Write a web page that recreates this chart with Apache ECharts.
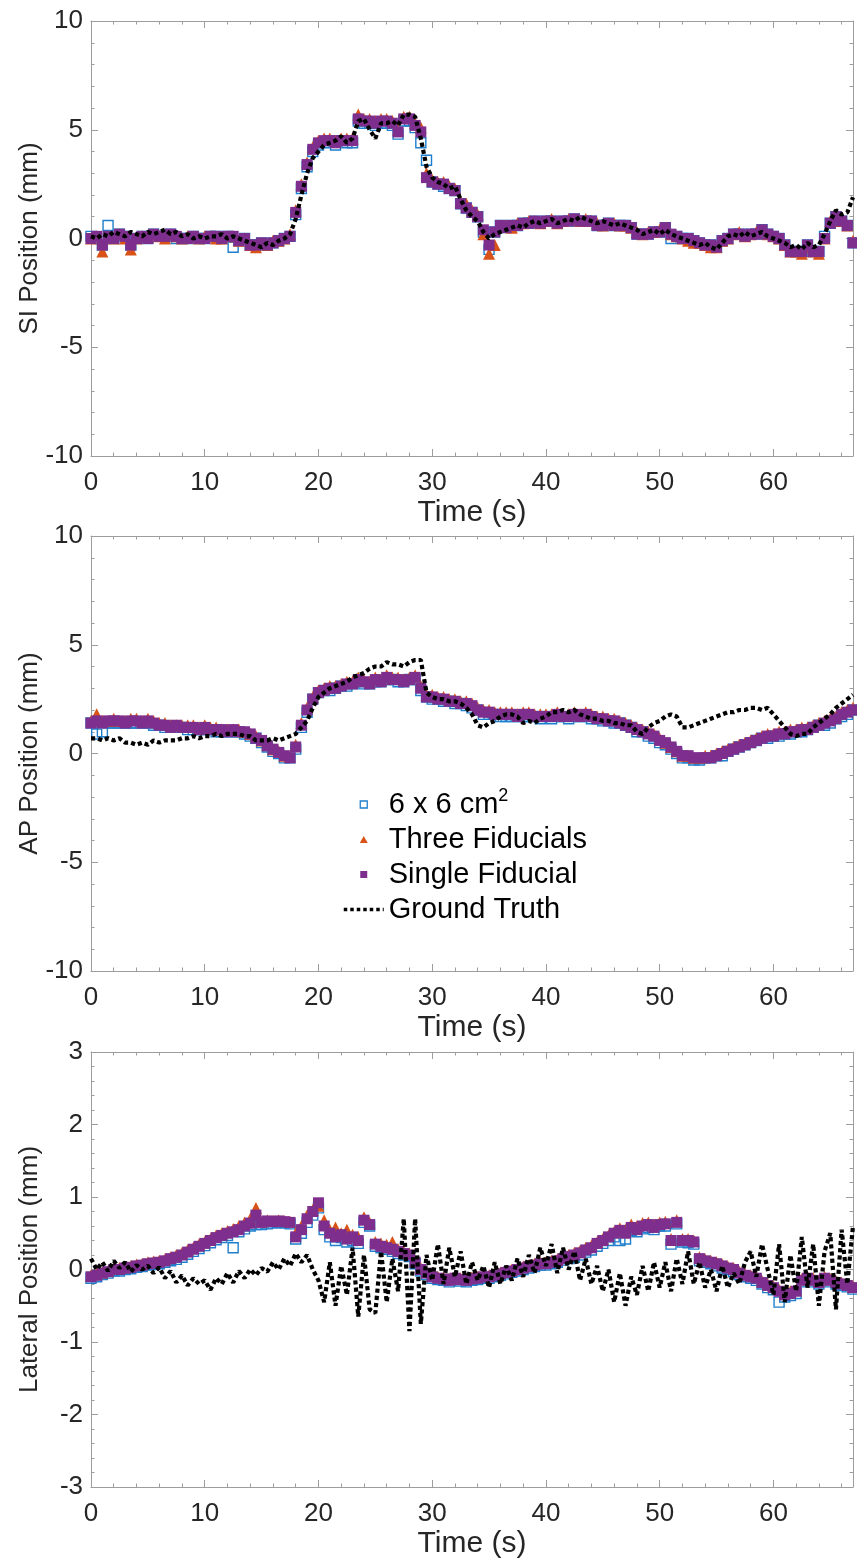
<!DOCTYPE html>
<html>
<head>
<meta charset="utf-8">
<script src="https://cdn.jsdelivr.net/npm/echarts@6.0.0/dist/echarts.min.js"></script>
<style>
  html, body { margin: 0; padding: 0; background: #ffffff; }
  #chart { width: 857px; height: 1563px; }
</style>
</head>
<body>
<div id="chart"></div>
<script>
// Tumour position traces: three marker-based estimates against the ground truth.
// Samples every 0.5 s from 0 to 67 s; each row below covers 5 s.
const SAMPLE_PERIOD = 0.5;   // s
const T_MAX = 67;            // s

const NAME_SQUARE = '6 x 6 cm²';
const NAME_THREE = 'Three Fiducials';
const NAME_SINGLE = 'Single Fiducial';
const NAME_TRUTH = 'Ground Truth';

// ---------- SI (mm) ----------
const SI_SQUARE = [
  0.1, 0.0, -0.3, 0.6, 0.0, 0.2, 0.1, -0.3, 0.0, 0.1,
  0.0, 0.2, 0.1, 0.1, 0.2, 0.0, 0.0, 0.0, 0.1, 0.0,
  0.0, 0.1, 0.1, 0.0, 0.1, -0.4, -0.1, 0.0, -0.3, -0.3,
  -0.2, -0.3, -0.2, -0.1, 0.0, 0.1, 1.1, 2.3, 3.3, 4.0,
  4.3, 4.4, 4.5, 4.3, 4.5, 4.4, 4.4, 5.4, 5.3, 5.3,
  5.2, 5.3, 5.3, 5.2, 4.8, 5.4, 5.4, 5.1, 4.4, 3.6,
  2.6, 2.5, 2.4, 2.3, 2.2, 1.6, 1.4, 1.2, 1.0, 0.3,
  -0.5, 0.3, 0.6, 0.5, 0.6, 0.6, 0.7, 0.7, 0.8, 0.7,
  0.8, 0.8, 0.7, 0.8, 0.8, 0.9, 0.8, 0.8, 0.8, 0.6,
  0.6, 0.7, 0.6, 0.6, 0.6, 0.5, 0.2, 0.2, 0.2, 0.3,
  0.3, 0.5, 0.0, 0.1, 0.0, 0.0, -0.1, -0.2, -0.3, -0.3,
  -0.4, -0.1, 0.0, 0.2, 0.2, 0.1, 0.2, 0.2, 0.4, 0.2,
  0.1, 0.0, -0.3, -0.6, -0.6, -0.6, -0.3, -0.6, -0.6, 0.1,
  0.7, 1.0, 0.8, 0.6, -0.2
];
const SI_THREE = [
  0.0, 0.1, -0.6, 0.1, 0.0, 0.2, 0.0, -0.5, 0.0, 0.1,
  0.1, 0.2, 0.1, 0.0, 0.2, 0.1, 0.0, 0.1, 0.1, 0.0,
  0.1, 0.1, 0.0, 0.0, 0.1, 0.1, -0.1, 0.0, -0.3, -0.4,
  -0.2, -0.3, -0.1, -0.1, 0.0, 0.2, 1.3, 2.5, 3.5, 4.2,
  4.5, 4.6, 4.6, 4.5, 4.6, 4.6, 4.6, 5.7, 5.5, 5.5,
  5.4, 5.5, 5.5, 5.4, 5.0, 5.6, 5.6, 5.3, 5.1, 3.0,
  2.7, 2.6, 2.6, 2.4, 2.3, 1.7, 1.6, 1.3, 1.1, 0.2,
  -0.7, -0.3, 0.6, 0.6, 0.5, 0.7, 0.7, 0.8, 0.8, 0.7,
  0.8, 0.9, 0.7, 0.8, 0.9, 0.9, 0.8, 0.9, 0.8, 0.7,
  0.6, 0.7, 0.7, 0.6, 0.6, 0.5, 0.3, 0.2, 0.3, 0.3,
  0.4, 0.5, 0.2, 0.1, 0.0, -0.1, -0.2, -0.2, -0.3, -0.4,
  -0.4, -0.1, 0.0, 0.2, 0.3, 0.1, 0.2, 0.3, 0.4, 0.2,
  0.1, 0.0, -0.3, -0.6, -0.6, -0.7, -0.4, -0.6, -0.7, 0.0,
  0.8, 1.1, 0.8, 0.6, -0.1
];
const SI_SINGLE = [
  0.0, 0.1, -0.3, 0.1, 0.0, 0.2, 0.1, -0.3, 0.0, 0.1,
  0.0, 0.2, 0.1, 0.1, 0.2, 0.1, 0.0, 0.0, 0.1, 0.0,
  0.0, 0.1, 0.1, 0.0, 0.1, 0.1, -0.1, 0.0, -0.3, -0.3,
  -0.2, -0.3, -0.2, -0.1, 0.0, 0.1, 1.2, 2.4, 3.4, 4.1,
  4.4, 4.5, 4.5, 4.4, 4.5, 4.5, 4.5, 5.5, 5.4, 5.4,
  5.3, 5.4, 5.4, 5.3, 4.9, 5.5, 5.5, 5.2, 4.9, 2.8,
  2.6, 2.5, 2.5, 2.3, 2.2, 1.6, 1.4, 1.2, 1.0, 0.4,
  -0.3, 0.3, 0.6, 0.5, 0.6, 0.6, 0.7, 0.7, 0.8, 0.7,
  0.8, 0.8, 0.7, 0.8, 0.8, 0.9, 0.8, 0.8, 0.8, 0.6,
  0.6, 0.7, 0.6, 0.6, 0.6, 0.5, 0.2, 0.2, 0.2, 0.3,
  0.3, 0.5, 0.2, 0.1, 0.0, 0.0, -0.1, -0.2, -0.3, -0.3,
  -0.4, -0.1, 0.0, 0.2, 0.2, 0.1, 0.2, 0.2, 0.4, 0.2,
  0.1, 0.0, -0.3, -0.6, -0.6, -0.6, -0.3, -0.6, -0.6, 0.0,
  0.7, 1.0, 0.8, 0.6, -0.2
];
const SI_TRUTH = [
  0.1, 0.0, 0.2, 0.1, 0.3, 0.2, 0.1, 0.3, 0.2, 0.1,
  0.3, 0.2, 0.3, 0.4, 0.2, 0.3, 0.1, 0.2, 0.0, 0.1,
  0.0, 0.1, 0.1, 0.2, 0.0, 0.1, 0.0, -0.1, -0.2, -0.3,
  -0.4, -0.2, -0.3, -0.1, 0.0, 0.2, 0.9, 2.0, 3.0, 3.7,
  4.0, 4.3, 4.4, 4.5, 4.7, 4.4, 4.6, 5.4, 5.5, 5.0,
  4.6, 5.3, 5.3, 5.4, 5.2, 5.7, 5.7, 5.6, 4.6, 3.3,
  2.8, 2.6, 2.5, 2.3, 2.4, 1.8, 1.3, 1.0, 0.8, 0.3,
  0.0, 0.2, 0.3, 0.4, 0.5, 0.6, 0.5, 0.7, 0.8, 0.7,
  0.8, 0.9, 0.7, 0.8, 0.9, 0.8, 1.0, 0.9, 0.8, 0.7,
  0.8, 0.7, 0.6, 0.7, 0.6, 0.5, 0.4, 0.2, 0.3, 0.4,
  0.2, 0.4, 0.2, 0.1, 0.0, -0.1, -0.2, -0.3, -0.2, -0.4,
  -0.5, -0.2, 0.1, 0.2, 0.1, 0.3, 0.1, 0.2, 0.3, 0.1,
  0.0, -0.1, -0.2, -0.4, -0.3, -0.5, -0.2, -0.4, -0.3, 0.2,
  0.8, 1.3, 1.1, 1.2, 1.9
];

// ---------- AP (mm) ----------
const AP_SQUARE = [
  1.4, 0.9, 1.0, 1.4, 1.4, 1.4, 1.4, 1.4, 1.4, 1.4,
  1.4, 1.3, 1.3, 1.2, 1.2, 1.2, 1.2, 1.1, 1.1, 1.1,
  1.1, 1.1, 1.0, 1.0, 1.0, 1.0, 1.0, 0.9, 0.8, 0.7,
  0.5, 0.3, 0.1, 0.0, -0.2, -0.2, 0.2, 1.2, 1.9, 2.5,
  2.8, 2.9, 2.9, 3.0, 3.1, 3.1, 3.2, 3.3, 3.2, 3.2,
  3.3, 3.3, 3.4, 3.4, 3.3, 3.3, 3.4, 3.4, 2.9, 2.6,
  2.5, 2.5, 2.4, 2.4, 2.3, 2.3, 2.2, 2.1, 2.0, 1.8,
  1.8, 1.8, 1.7, 1.7, 1.7, 1.7, 1.7, 1.7, 1.7, 1.6,
  1.7, 1.6, 1.7, 1.7, 1.6, 1.7, 1.7, 1.7, 1.6, 1.6,
  1.5, 1.5, 1.4, 1.4, 1.3, 1.2, 1.0, 1.0, 0.8, 0.7,
  0.5, 0.4, 0.2, 0.0, -0.2, -0.2, -0.3, -0.3, -0.2, -0.2,
  -0.1, -0.1, 0.1, 0.2, 0.3, 0.4, 0.5, 0.6, 0.7, 0.7,
  0.8, 0.8, 0.9, 0.9, 1.0, 1.0, 1.1, 1.2, 1.3, 1.3,
  1.4, 1.6, 1.7, 1.8, 2.0
];
const AP_THREE = [
  1.5, 1.8, 1.5, 1.5, 1.6, 1.5, 1.5, 1.6, 1.6, 1.5,
  1.6, 1.5, 1.4, 1.4, 1.3, 1.3, 1.3, 1.3, 1.3, 1.2,
  1.3, 1.2, 1.2, 1.1, 1.1, 1.1, 1.1, 1.0, 0.9, 0.8,
  0.6, 0.4, 0.2, 0.1, -0.1, -0.15, 0.4, 1.4, 2.1, 2.6,
  2.9, 3.0, 3.1, 3.1, 3.2, 3.3, 3.3, 3.5, 3.4, 3.3,
  3.5, 3.4, 3.6, 3.5, 3.5, 3.4, 3.5, 3.6, 3.1, 2.7,
  2.7, 2.6, 2.6, 2.5, 2.5, 2.4, 2.4, 2.3, 2.1, 2.0,
  2.0, 1.9, 1.9, 1.9, 1.9, 1.8, 1.9, 1.9, 1.8, 1.8,
  1.8, 1.8, 1.9, 1.8, 1.8, 1.9, 1.8, 1.9, 1.8, 1.7,
  1.7, 1.6, 1.6, 1.5, 1.4, 1.3, 1.2, 1.1, 1.0, 0.9,
  0.7, 0.5, 0.3, 0.1, -0.1, -0.1, -0.2, -0.2, -0.1, -0.1,
  0.0, 0.1, 0.2, 0.3, 0.4, 0.5, 0.6, 0.7, 0.8, 0.9,
  0.9, 1.0, 1.0, 1.1, 1.1, 1.2, 1.2, 1.3, 1.4, 1.5,
  1.6, 1.7, 1.9, 2.0, 2.1
];
const AP_SINGLE = [
  1.4, 1.5, 1.4, 1.5, 1.5, 1.5, 1.4, 1.5, 1.5, 1.4,
  1.5, 1.4, 1.3, 1.3, 1.2, 1.3, 1.2, 1.2, 1.2, 1.1,
  1.2, 1.1, 1.1, 1.1, 1.0, 1.1, 1.0, 1.0, 0.9, 0.7,
  0.6, 0.35, 0.2, 0.05, -0.1, -0.2, 0.3, 1.3, 2.0, 2.5,
  2.8, 2.9, 3.0, 3.0, 3.1, 3.2, 3.2, 3.4, 3.3, 3.2,
  3.4, 3.3, 3.5, 3.4, 3.4, 3.3, 3.4, 3.5, 3.0, 2.6,
  2.6, 2.5, 2.5, 2.4, 2.4, 2.3, 2.3, 2.2, 2.0, 1.9,
  1.9, 1.8, 1.8, 1.8, 1.8, 1.7, 1.8, 1.8, 1.7, 1.7,
  1.7, 1.7, 1.8, 1.7, 1.7, 1.8, 1.7, 1.8, 1.7, 1.6,
  1.6, 1.5, 1.5, 1.4, 1.3, 1.2, 1.1, 1.0, 0.9, 0.8,
  0.6, 0.5, 0.3, 0.1, -0.1, -0.1, -0.2, -0.2, -0.2, -0.2,
  -0.1, 0.0, 0.1, 0.2, 0.3, 0.4, 0.5, 0.6, 0.7, 0.8,
  0.8, 0.9, 0.9, 1.0, 1.0, 1.1, 1.1, 1.2, 1.3, 1.4,
  1.5, 1.6, 1.8, 1.9, 2.0
];
const AP_TRUTH = [
  0.7, 0.7, 0.6, 0.7, 0.6, 0.7, 0.5, 0.5, 0.4, 0.5,
  0.4, 0.6, 0.5, 0.6, 0.6, 0.6, 0.7, 0.7, 0.8, 0.7,
  0.8, 0.8, 0.9, 0.8, 0.9, 0.9, 0.9, 0.8, 0.8, 0.6,
  0.6, 0.6, 0.7, 0.6, 0.7, 0.8, 0.9, 1.2, 1.5, 2.1,
  2.6, 2.8, 3.0, 3.1, 3.2, 3.3, 3.5, 3.6, 3.7, 3.9,
  4.0, 4.0, 4.2, 4.1, 4.1, 4.0, 4.2, 4.3, 4.3, 2.8,
  2.6, 2.5, 2.5, 2.4, 2.4, 2.3, 2.1, 1.8, 1.3, 1.2,
  1.4, 1.5, 1.7, 1.8, 1.8, 1.7, 1.4, 1.5, 1.4, 1.6,
  1.7, 1.9, 1.9, 2.0, 1.9, 2.0, 1.8, 1.7, 1.6, 1.6,
  1.5, 1.5, 1.4, 1.4, 1.3, 1.3, 1.0, 0.9, 1.2, 1.4,
  1.5, 1.7, 1.8, 1.7, 1.2, 1.2, 1.3, 1.4, 1.5, 1.6,
  1.7, 1.8, 1.9, 1.9, 2.0, 2.0, 2.1, 2.1, 2.0, 2.1,
  1.8, 1.5, 1.2, 0.9, 0.8, 0.9, 0.9, 1.2, 1.4, 1.6,
  1.8, 2.1, 2.3, 2.5, 2.7
];

// ---------- Lateral (mm) ----------
const LAT_SQUARE = [
  -0.12, -0.1, -0.07, -0.05, -0.02, -0.02, 0.0, 0.01, 0.03, 0.04,
  0.06, 0.07, 0.08, 0.1, 0.12, 0.14, 0.17, 0.21, 0.25, 0.29,
  0.33, 0.37, 0.41, 0.44, 0.47, 0.3, 0.52, 0.56, 0.6, 0.62,
  0.62, 0.63, 0.64, 0.65, 0.64, 0.63, 0.42, 0.5, 0.65, 0.75,
  0.85, 0.55, 0.45, 0.4, 0.44, 0.38, 0.4, 0.36, 0.65, 0.6,
  0.32, 0.3, 0.28, 0.25, 0.22, 0.2, 0.18, 0.08, -0.02, -0.07,
  -0.12, -0.14, -0.15, -0.17, -0.14, -0.16, -0.17, -0.15, -0.14, -0.12,
  -0.12, -0.1, -0.08, -0.06, -0.04, -0.02, 0.0, 0.02, 0.04, 0.06,
  0.06, 0.08, 0.1, 0.13, 0.15, 0.17, 0.2, 0.24, 0.27, 0.32,
  0.36, 0.4, 0.45, 0.4, 0.42, 0.54, 0.52, 0.56, 0.58, 0.55,
  0.6, 0.6, 0.35, 0.63, 0.38, 0.37, 0.35, 0.12, 0.1, 0.08,
  0.05, 0.02, 0.0, -0.03, -0.07, -0.1, -0.12, -0.15, -0.2, -0.25,
  -0.28, -0.45, -0.38, -0.36, -0.33, -0.17, -0.14, -0.17, -0.2, -0.14,
  -0.17, -0.2, -0.22, -0.24, -0.27
];
const LAT_THREE = [
  -0.08, -0.06, -0.04, -0.02, 0.01, 0.02, 0.03, 0.05, 0.07, 0.08,
  0.1, 0.11, 0.12, 0.14, 0.17, 0.2, 0.23, 0.27, 0.3, 0.35,
  0.38, 0.42, 0.47, 0.5, 0.53, 0.56, 0.6, 0.65, 0.7, 0.85,
  0.66, 0.68, 0.67, 0.68, 0.67, 0.66, 0.5, 0.6, 0.75, 0.82,
  0.88, 0.68, 0.55, 0.58, 0.5, 0.55, 0.48, 0.45, 0.72, 0.65,
  0.38, 0.36, 0.34, 0.38, 0.28, 0.25, 0.22, 0.12, 0.02, -0.03,
  -0.08, -0.1, -0.11, -0.13, -0.1, -0.12, -0.13, -0.11, -0.1, -0.08,
  -0.08, -0.06, -0.04, -0.02, 0.0, 0.02, 0.04, 0.06, 0.08, 0.1,
  0.1, 0.12, 0.14, 0.17, 0.2, 0.23, 0.26, 0.3, 0.33, 0.38,
  0.42, 0.47, 0.52, 0.57, 0.55, 0.62, 0.6, 0.64, 0.65, 0.62,
  0.65, 0.66, 0.42, 0.68, 0.42, 0.42, 0.4, 0.17, 0.14, 0.12,
  0.1, 0.07, 0.04, 0.02, -0.03, -0.06, -0.08, -0.1, -0.16, -0.2,
  -0.23, -0.28, -0.32, -0.3, -0.28, -0.13, -0.1, -0.12, -0.15, -0.1,
  -0.13, -0.16, -0.18, -0.2, -0.23
];
const LAT_SINGLE = [
  -0.1, -0.08, -0.05, -0.03, 0.0, 0.0, 0.02, 0.03, 0.05, 0.06,
  0.08, 0.09, 0.1, 0.12, 0.15, 0.17, 0.2, 0.24, 0.28, 0.32,
  0.36, 0.4, 0.44, 0.47, 0.5, 0.52, 0.55, 0.6, 0.64, 0.75,
  0.65, 0.67, 0.66, 0.67, 0.66, 0.65, 0.45, 0.55, 0.7, 0.8,
  0.92, 0.6, 0.5, 0.45, 0.48, 0.42, 0.45, 0.4, 0.68, 0.62,
  0.35, 0.32, 0.3, 0.28, 0.25, 0.22, 0.2, 0.1, 0.0, -0.05,
  -0.1, -0.12, -0.13, -0.15, -0.12, -0.14, -0.15, -0.13, -0.12, -0.1,
  -0.1, -0.08, -0.06, -0.04, -0.02, 0.0, 0.02, 0.04, 0.06, 0.08,
  0.08, 0.1, 0.12, 0.15, 0.18, 0.2, 0.23, 0.27, 0.3, 0.36,
  0.4, 0.45, 0.5, 0.54, 0.5, 0.58, 0.55, 0.6, 0.62, 0.58,
  0.62, 0.63, 0.4, 0.65, 0.4, 0.4, 0.38, 0.15, 0.12, 0.1,
  0.08, 0.05, 0.02, 0.0, -0.05, -0.08, -0.1, -0.12, -0.18, -0.22,
  -0.25, -0.3, -0.35, -0.33, -0.3, -0.15, -0.12, -0.15, -0.18, -0.12,
  -0.15, -0.18, -0.2, -0.22, -0.25
];
const LAT_TRUTH = [
  0.15, 0.0, 0.1, -0.02, 0.12, 0.02, 0.1, -0.03, 0.06, 0.0,
  0.05, -0.05, 0.03, -0.12, -0.02, -0.18, -0.08, -0.22, -0.12, -0.2,
  -0.15, -0.28, -0.12, -0.2, -0.05, -0.18, -0.02, -0.12, 0.0, -0.08,
  0.02, -0.03, 0.1, 0.0, 0.15, 0.05, 0.22, 0.1, 0.2, 0.0,
  -0.15, -0.45, 0.1, -0.5, 0.05, -0.35, 0.3, -0.65, 0.2, -0.55,
  -0.6, 0.25, -0.45, 0.15, -0.3, 0.7, -0.85, 0.7, -0.75, 0.2,
  -0.15, 0.35, -0.2, 0.3, -0.1, 0.25, -0.2, 0.1, -0.15, 0.05,
  -0.25, 0.1, -0.2, 0.05, -0.15, 0.15, -0.1, 0.2, -0.05, 0.3,
  0.05, 0.35, -0.05, 0.3, 0.0, 0.25, -0.15, 0.15, -0.2, 0.05,
  -0.3, 0.0, -0.45, -0.05, -0.5, -0.1, -0.35, 0.05, -0.3, 0.1,
  -0.25, 0.1, -0.3, 0.15, -0.2, 0.25, -0.2, 0.1, -0.25, 0.0,
  -0.3, 0.05, -0.25, -0.05, -0.2, 0.1, 0.25, -0.1, 0.35, 0.0,
  -0.35, 0.35, -0.45, 0.2, -0.3, 0.45, -0.25, 0.35, -0.5, 0.25,
  0.5, -0.55, 0.55, -0.2, 0.6
];

// Panel definitions: axis title, y range, tick step and the four traces.
const PANELS = [
  { title: 'SI Position (mm)', yMin: -10, yMax: 10, yStep: 5,
    square: SI_SQUARE, three: SI_THREE, single: SI_SINGLE, truth: SI_TRUTH },
  { title: 'AP Position (mm)', yMin: -10, yMax: 10, yStep: 5,
    square: AP_SQUARE, three: AP_THREE, single: AP_SINGLE, truth: AP_TRUTH },
  { title: 'Lateral Position (mm)', yMin: -3, yMax: 3, yStep: 1,
    square: LAT_SQUARE, three: LAT_THREE, single: LAT_SINGLE, truth: LAT_TRUTH }
];

// Plot-area placement of each panel (px).
const GRID_LEFT = 91, GRID_WIDTH = 762, GRID_HEIGHT = 435;
const GRID_TOPS = [21, 536, 1052];

const FONT = "'Liberation Sans', Arial, Helvetica, sans-serif";
const AXIS_GRAY = '#9d9d9d';
const TEXT_DARK = '#262626';
const BLUE = '#1f7fcc';
const ORANGE = '#D95319';
const PURPLE = '#7E2F8E';

// Legend glyphs drawn inside a 40 x 8 box (the corner points pin the box size).
const ICON_SQUARE = 'path://M0,0L0,0M16.5,0.5L23.5,0.5L23.5,7.5L16.5,7.5ZM40,8L40,8';
const ICON_TRIANGLE = 'path://M0,0L0,0M16,7.5L20,0.5L24,7.5ZM40,8L40,8';

const withTime = values => values.map((v, i) => [i * SAMPLE_PERIOD, v]);

const tickLine = { color: AXIS_GRAY, width: 1 };

function xAxesFor(g) {
  const base = {
    gridIndex: g, type: 'value', min: 0, max: T_MAX,
    splitLine: { show: false },
    axisLine: { show: false, onZero: false },
    axisLabel: { show: false },
    axisTick: { show: true, inside: true, length: 3.5, lineStyle: tickLine },
    silent: true
  };
  return [
    Object.assign({}, base, {
      position: 'bottom', interval: 10,
      axisLine: { show: true, onZero: false, lineStyle: tickLine },
      axisTick: { show: true, inside: true, length: 7, lineStyle: tickLine },
      axisLabel: { show: true, showMaxLabel: false, margin: 14,
                   fontFamily: FONT, fontSize: 26, color: TEXT_DARK },
      name: 'Time (s)', nameLocation: 'middle', nameGap: 42, nameMoveOverlap: false,
      nameTextStyle: { fontFamily: FONT, fontSize: 30, color: TEXT_DARK }
    }),
    Object.assign({}, base, { position: 'bottom', interval: 2 }),
    Object.assign({}, base, {
      position: 'top', interval: 10,
      axisLine: { show: true, onZero: false, lineStyle: tickLine },
      axisTick: { show: true, inside: true, length: 7, lineStyle: tickLine }
    }),
    Object.assign({}, base, { position: 'top', interval: 2 })
  ];
}

function yAxesFor(g, p) {
  const base = {
    gridIndex: g, type: 'value', min: p.yMin, max: p.yMax, interval: p.yStep,
    splitLine: { show: false },
    axisLine: { show: true, onZero: false, lineStyle: tickLine },
    axisTick: { show: true, inside: true, length: 7, lineStyle: tickLine },
    minorTick: { show: true, splitNumber: 5, length: 3.5, lineStyle: tickLine },
    silent: true
  };
  return [
    Object.assign({}, base, {
      position: 'left',
      axisLabel: { show: true, margin: 8, fontFamily: FONT, fontSize: 26, color: TEXT_DARK },
      name: p.title, nameLocation: 'middle', nameGap: 48, nameMoveOverlap: false,
      nameTextStyle: { fontFamily: FONT, fontSize: 26, color: TEXT_DARK }
    }),
    Object.assign({}, base, { position: 'right', axisLabel: { show: false } })
  ];
}

const grids = [], xAxes = [], yAxes = [], series = [];
PANELS.forEach((p, g) => {
  grids.push({ left: GRID_LEFT, top: GRID_TOPS[g], width: GRID_WIDTH, height: GRID_HEIGHT,
               containLabel: false, outerBoundsMode: 'none' });
  xAxes.push(...xAxesFor(g));
  yAxes.push(...yAxesFor(g, p));
  const xi = g * 4, yi = g * 2;
  series.push(
    { name: NAME_SQUARE, type: 'scatter', xAxisIndex: xi, yAxisIndex: yi,
      symbol: 'rect', symbolSize: 10, z: 2,
      itemStyle: { color: 'rgba(255,255,255,0)', borderColor: BLUE, borderWidth: 1.4, opacity: 1 },
      data: withTime(p.square) },
    { name: NAME_THREE, type: 'scatter', xAxisIndex: xi, yAxisIndex: yi,
      symbol: 'triangle', symbolSize: 12, z: 3,
      itemStyle: { color: ORANGE, opacity: 1 },
      data: withTime(p.three) },
    { name: NAME_SINGLE, type: 'scatter', xAxisIndex: xi, yAxisIndex: yi,
      symbol: 'rect', symbolSize: 11, z: 4,
      itemStyle: { color: PURPLE, opacity: 1 },
      data: withTime(p.single) },
    { name: NAME_TRUTH, type: 'line', xAxisIndex: xi, yAxisIndex: yi,
      symbol: 'none', showSymbol: false, z: 5,
      itemStyle: { color: '#000000' },
      lineStyle: { color: '#000000', width: 4.2, type: [4.2, 3], cap: 'butt' },
      data: withTime(p.truth) }
  );
});

const chart = echarts.init(document.getElementById('chart'), null, { renderer: 'canvas' });
chart.setOption({
  backgroundColor: '#ffffff',
  animation: false,
  grid: grids,
  xAxis: xAxes,
  yAxis: yAxes,
  legend: {
    orient: 'vertical', left: 342, top: 787, padding: 0,
    itemWidth: 40, itemHeight: 8, itemGap: 0, selectedMode: false,
    formatter: n => (n === NAME_SQUARE ? '6 x 6 cm{sup|2}' : n),
    textStyle: {
      fontFamily: FONT, fontSize: 29, color: '#000000', lineHeight: 35,
      rich: { sup: { fontFamily: FONT, fontSize: 18, lineHeight: 18,
                     verticalAlign: 'top', color: '#000000' } }
    },
    data: [
      { name: NAME_SQUARE, icon: ICON_SQUARE,
        itemStyle: { color: 'rgba(255,255,255,0)', borderColor: BLUE, borderWidth: 1.3 } },
      { name: NAME_THREE, icon: ICON_TRIANGLE,
        itemStyle: { color: ORANGE, borderWidth: 0 } },
      { name: NAME_SINGLE, icon: ICON_SQUARE,
        itemStyle: { color: PURPLE, borderWidth: 0 } },
      { name: NAME_TRUTH,
        itemStyle: { color: 'rgba(0,0,0,0)', borderWidth: 0 },
        lineStyle: { color: '#000000', width: 3.5, type: [3.5, 3] } }
    ]
  },
  series: series
});
</script>
</body>
</html>
